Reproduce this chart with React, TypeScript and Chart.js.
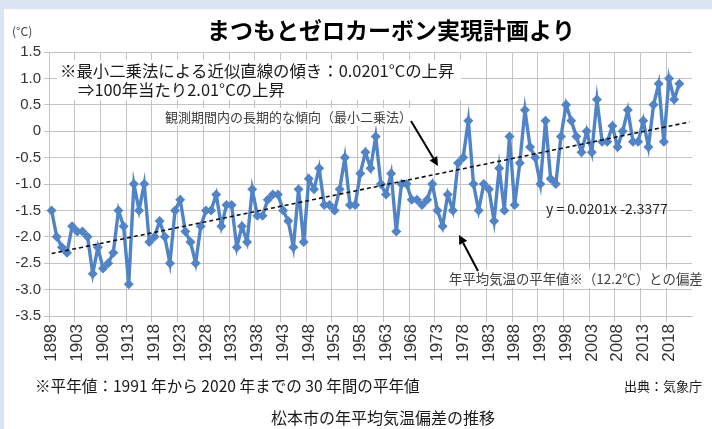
import React, { useEffect, useRef } from 'react';
import { Chart, registerables } from 'chart.js';

Chart.register(...registerables);

// ---- data ----
const START_YEAR = 1898;
const END_YEAR = 2022; // axis categories run to 2022 (data to 2020)
const YEAR_LABELS: string[] = [];
for (let y = START_YEAR; y <= END_YEAR; y++) YEAR_LABELS.push(String(y));

// 年平均気温の平年値との偏差 (°C), 1898–2020
const ANOMALY: number[] = [
  -1.5, -2.0, -2.2, -2.3, -1.8, -1.9, -1.9, -2.0, -2.7, -2.2, // 1898-1907
  -2.6, -2.5, -2.3, -1.5, -1.8, -2.9, -1.0, -1.5, -1.0, -2.1, // 1908-1917
  -2.0, -1.7, -2.0, -2.5, -1.5, -1.3, -1.9, -2.1, -2.5, -1.8, // 1918-1927
  -1.5, -1.5, -1.2, -1.8, -1.4, -1.4, -2.2, -1.8, -2.1, -1.1, // 1928-1937
  -1.6, -1.6, -1.3, -1.2, -1.2, -1.5, -1.7, -2.2, -1.1, -2.1, // 1938-1947
  -0.9, -1.1, -0.7, -1.4, -1.4, -1.5, -1.1, -0.5, -1.4, -1.4, // 1948-1957
  -0.8, -0.4, -0.7, -0.1, -1.0, -1.2, -0.8, -1.9, -1.0, -1.0, // 1958-1967
  -1.3, -1.3, -1.4, -1.3, -1.0, -1.5, -1.8, -1.2, -1.5, -0.6, // 1968-1977
  -0.5, 0.2, -1.0, -1.5, -1.0, -1.1, -1.7, -0.7, -1.5, -0.1,  // 1978-1987
  -1.4, -0.6, 0.4, -0.3, -0.5, -1.0, 0.2, -0.9, -1.0, -0.1,   // 1988-1997
  0.5, 0.2, -0.1, -0.4, 0.0, -0.4, 0.6, -0.2, -0.2, 0.1,      // 1998-2007
  -0.3, 0.0, 0.4, -0.2, -0.2, 0.2, -0.3, 0.5, 0.9, -0.2,      // 2008-2017
  1.0, 0.6, 0.9,                                              // 2018-2020
];

// 近似直線 y = 0.0201x - 2.3377 (x = 1 for 1898)
const TREND_SLOPE = 0.0201;
const TREND_INTERCEPT = -2.3377;

const Y_MIN = -3.5;
const Y_MAX = 1.5;
const Y_STEP = 0.5;
const X_LABEL_EVERY = 5;

const LINE_COLOR = '#5084c6';
const GRID_COLOR = '#c4c4c4';
const JP = '"Noto Sans CJK JP", "Noto Sans", sans-serif';

function drawArrow(ctx: CanvasRenderingContext2D, x1: number, y1: number, x2: number, y2: number) {
  const ang = Math.atan2(y2 - y1, x2 - x1);
  const head = 9;
  const hw = 4.5;
  const bx = x2 - head * Math.cos(ang);
  const by = y2 - head * Math.sin(ang);
  ctx.save();
  ctx.strokeStyle = '#000';
  ctx.fillStyle = '#000';
  ctx.lineWidth = 2;
  ctx.beginPath();
  ctx.moveTo(x1, y1);
  ctx.lineTo(bx, by);
  ctx.stroke();
  ctx.beginPath();
  ctx.moveTo(x2, y2);
  ctx.lineTo(bx + hw * Math.sin(ang), by - hw * Math.cos(ang));
  ctx.lineTo(bx - hw * Math.sin(ang), by + hw * Math.cos(ang));
  ctx.closePath();
  ctx.fill();
  ctx.restore();
}

function boxText(ctx: CanvasRenderingContext2D, text: string, x: number, y: number, font: string, color: string, fill: boolean) {
  ctx.font = font;
  ctx.textBaseline = 'middle';
  ctx.textAlign = 'left';
  if (fill) {
    const w = ctx.measureText(text).width;
    ctx.fillStyle = '#fff';
    ctx.fillRect(x - 2, y - 9, w + 4, 18);
  }
  ctx.fillStyle = color;
  ctx.fillText(text, x, y);
}

const decorPlugin = {
  id: 'decor',
  beforeDraw(chart: any) {
    const ctx = chart.ctx as CanvasRenderingContext2D;
    ctx.save();
    ctx.fillStyle = '#dbe4f2';
    ctx.fillRect(0, 0, chart.width, chart.height);
    ctx.fillStyle = '#ffffff';
    ctx.fillRect(4, 9, chart.width - 4, chart.height - 9);
    ctx.restore();
  },
  afterDraw(chart: any) {
    const ctx = chart.ctx as CanvasRenderingContext2D;
    ctx.save();
    // title
    ctx.fillStyle = '#000';
    ctx.font = `bold 23px ${JP}`;
    ctx.textAlign = 'center';
    ctx.textBaseline = 'middle';
    ctx.fillText('まつもとゼロカーボン実現計画より', 391, 30);
    // unit
    ctx.font = `12px ${JP}`;
    ctx.textAlign = 'left';
    ctx.fillStyle = '#404040';
    ctx.fillText('(°C)', 12, 31);

    // slope annotation box
    ctx.fillStyle = '#fff';
    ctx.fillRect(57, 60, 404, 40);
    boxText(ctx, '※最小二乗法による近似直線の傾き：0.0201°Cの上昇', 60, 71, `16.4px ${JP}`, '#1a1a1a', false);
    boxText(ctx, '⇒100年当たり2.01°Cの上昇', 78, 90, `16.4px ${JP}`, '#1a1a1a', false);

    boxText(ctx, '観測期間内の長期的な傾向（最小二乗法）', 165, 117, `13px ${JP}`, '#404040', true);
    drawArrow(ctx, 411, 121, 438, 166);

    boxText(ctx, 'y = 0.0201x -2.3377', 546, 209, `14px ${JP}`, '#262626', false);

    boxText(ctx, '年平均気温の平年値※（12.2℃）との偏差', 449, 279, `13.4px ${JP}`, '#404040', true);
    drawArrow(ctx, 478, 271, 459, 235);

    // footer
    ctx.fillStyle = '#1a1a1a';
    ctx.font = `15.6px ${JP}`;
    ctx.textAlign = 'left';
    ctx.fillText('※平年値：1991 年から 2020 年までの 30 年間の平年値', 35, 386);
    ctx.textAlign = 'right';
    ctx.font = `13px ${JP}`;
    ctx.fillText('出典：気象庁', 702, 386);
    ctx.textAlign = 'center';
    ctx.font = `16px ${JP}`;
    ctx.fillText('松本市の年平均気温偏差の推移', 383, 418);
    ctx.restore();
  },
};

export default function App() {
  const ref = useRef<HTMLCanvasElement | null>(null);
  useEffect(() => {
    if (!ref.current) return;
    const data = YEAR_LABELS.map((_, i) => (i < ANOMALY.length ? ANOMALY[i] : null));
    const trend = YEAR_LABELS.map((_, i) => TREND_SLOPE * (i + 1) + TREND_INTERCEPT);
    const chart = new Chart(ref.current, {
      type: 'line',
      data: {
        labels: YEAR_LABELS,
        datasets: [
          {
            label: '近似直線',
            data: trend,
            borderColor: '#111',
            borderWidth: 1.6,
            borderDash: [4, 3],
            pointRadius: 0,
            fill: false,
          },
          {
            label: '偏差',
            data,
            borderColor: LINE_COLOR,
            backgroundColor: LINE_COLOR,
            borderWidth: 3.4,
            pointStyle: 'rectRot',
            pointRadius: 5,
            pointBorderWidth: 0,
            pointBackgroundColor: LINE_COLOR,
            fill: false,
            tension: 0,
          },
        ],
      },
      options: {
        animation: false,
        responsive: false,
        devicePixelRatio: 1,
        layout: { padding: { top: 52, right: 2, left: 0, bottom: 0 } },
        plugins: { legend: { display: false }, tooltip: { enabled: false }, title: { display: false } },
        scales: {
          x: {
            type: 'category',
            offset: true,
            grid: {
              offset: true,
              color: (c: any) => (c.index % X_LABEL_EVERY === 0 ? GRID_COLOR : 'rgba(0,0,0,0)'),
              tickLength: 6,
              lineWidth: 1,
            },
            border: { color: GRID_COLOR },
            ticks: {
              autoSkip: false,
              minRotation: 90,
              maxRotation: 90,
              padding: 2,
              color: '#333',
              font: { family: '"Liberation Sans", sans-serif', size: 17 },
              callback: (_v: any, i: number) => (i % X_LABEL_EVERY === 0 ? YEAR_LABELS[i] : ''),
            },
            afterFit: (s: any) => {
              s.height = 113;
            },
          },
          y: {
            min: Y_MIN,
            max: Y_MAX,
            grid: { color: GRID_COLOR, tickLength: 5 },
            border: { color: GRID_COLOR },
            ticks: {
              stepSize: Y_STEP,
              padding: 3,
              color: '#333',
              font: { family: '"Liberation Sans", sans-serif', size: 15 },
            },
            afterFit: (s: any) => {
              s.width = 49;
            },
          },
        },
      },
      plugins: [decorPlugin],
    } as any);
    return () => chart.destroy();
  }, []);
  return (
    <div style={{ position: 'fixed', left: 0, top: 0, width: 712, height: 429 }}>
      <canvas ref={ref} width={712} height={429} style={{ width: 712, height: 429, display: 'block' }} />
    </div>
  );
}
